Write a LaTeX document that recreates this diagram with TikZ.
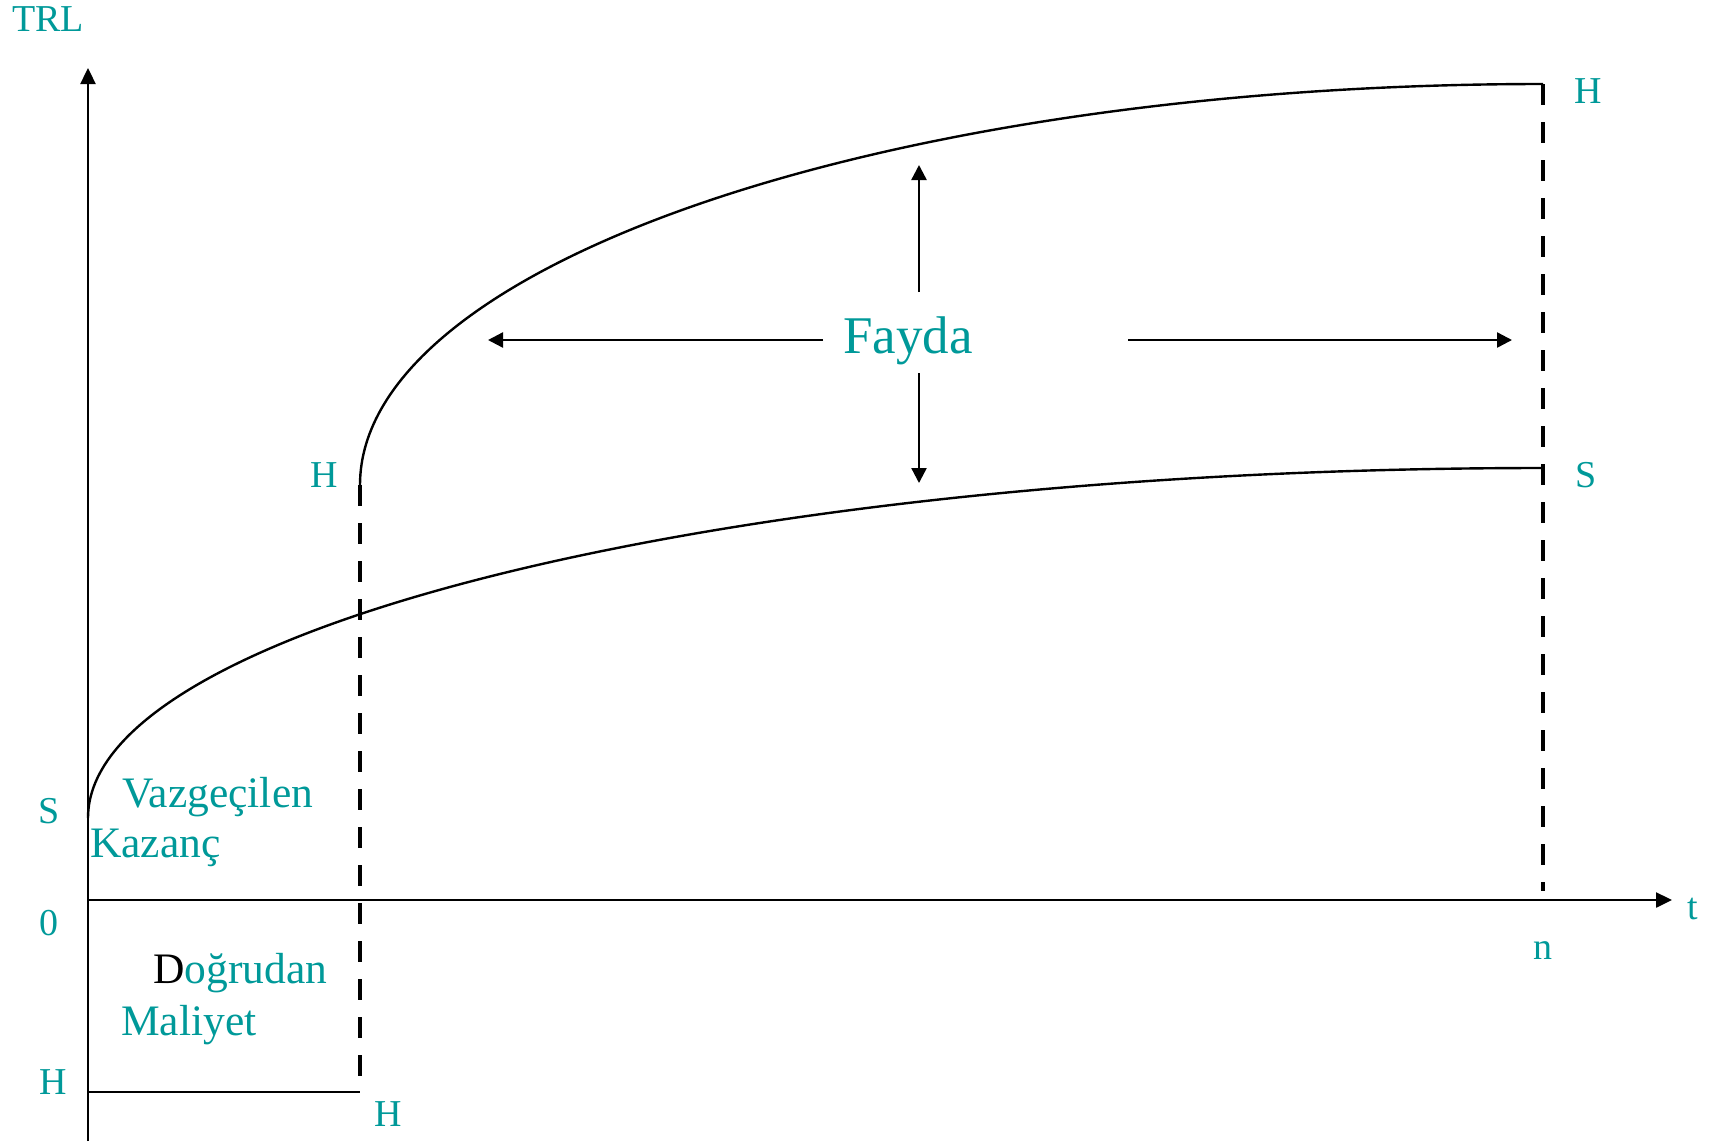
\documentclass[tikz,border=0pt]{standalone}
\usepackage{fontspec}
\setmainfont{Liberation Serif}
\usetikzlibrary{arrows.meta}
\definecolor{tealtxt}{RGB}{0,153,153}
\tikzset{
  lbl/.style={text=tealtxt, inner sep=0pt, font=\fontsize{38}{42}\selectfont},
  bigl/.style={text=tealtxt, inner sep=0pt, font=\fontsize{43.5}{47}\selectfont},
  axis/.style={line width=2.4pt, -{Triangle[length=16pt,width=15pt]}},
  curve/.style={line width=2.4pt},
  dashln/.style={line width=4.5pt, dash pattern=on 21pt off 17pt},
  farrow/.style={line width=2.4pt, -{Triangle[length=15pt,width=15pt]}}
}
\begin{document}
\begin{tikzpicture}[x=1pt,y=-1pt]
\useasboundingbox (0,0) rectangle (1720,1144);
% coordinates
\coordinate (Ybot) at (88,1141);
\coordinate (Ytop) at (88,68);
\coordinate (O) at (88,900);
\coordinate (Xend) at (1672,900);
\coordinate (Hm) at (360,485);
\coordinate (Hb) at (360,1092);
\coordinate (Hl) at (88,1092);
\coordinate (Ht) at (1543,84);
\coordinate (Nb) at (1543,891);
\coordinate (Sl) at (88,818);
\coordinate (Sr) at (1543,468);
\coordinate (FL) at (823,340);
\coordinate (FLt) at (488,340);
\coordinate (FR) at (1128,340);
\coordinate (FRt) at (1512,340);
\coordinate (FU) at (919,292);
\coordinate (FUt) at (919,165);
\coordinate (FD) at (919,373);
\coordinate (FDt) at (919,483);
% axes
\draw[axis] (Ybot) -- (Ytop);
\draw[axis] (O) -- (Xend);
% curves
\draw[curve] (Hm) .. controls (360,263.5) and (889.6,84) .. (Ht);
\draw[curve] (Sl) .. controls (88,624.7) and (739.4,468) .. (Sr);
\draw[curve] (Hl) -- (Hb);
% dashed lines
\draw[dashln] (Hm) -- (Hb);
\draw[dashln] (Ht) -- (Nb);
% Fayda arrows
\draw[farrow] (FL) -- (FLt);
\draw[farrow] (FR) -- (FRt);
\draw[farrow] (FU) -- (FUt);
\draw[farrow] (FD) -- (FDt);
% labels
\node[lbl, anchor=base west] (trl) at (12,31) {TRL};
\node[lbl, anchor=base] (sL) at (49,823) {S};
\node[lbl, anchor=base] (zero) at (48.5,935) {0};
\node[lbl, anchor=base] (hL) at (53,1094) {H};
\node[lbl, anchor=base] (hB) at (388,1126) {H};
\node[lbl, anchor=base] (hM) at (324,487) {H};
\node[lbl, anchor=base] (hT) at (1588,103) {H};
\node[lbl, anchor=base] (sR) at (1586,487) {S};
\node[lbl, anchor=base] (n) at (1543,959) {n};
\node[lbl, anchor=base] (t) at (1693,919) {t};
\node[bigl, anchor=base west] (vaz) at (122,807) {Vazgeçilen};
\node[bigl, anchor=base west] (kaz) at (90,857) {Kazanç};
\node[bigl, anchor=base west] (dog) at (153,983) {\textcolor{black}{D}oğrudan};
\node[bigl, anchor=base west] (mal) at (121,1035) {Maliyet};
\node[text=tealtxt, inner sep=0pt, font=\fontsize{53}{58}\selectfont, anchor=base] (fay) at (908,353) {Fayda};
\end{tikzpicture}
\end{document}
